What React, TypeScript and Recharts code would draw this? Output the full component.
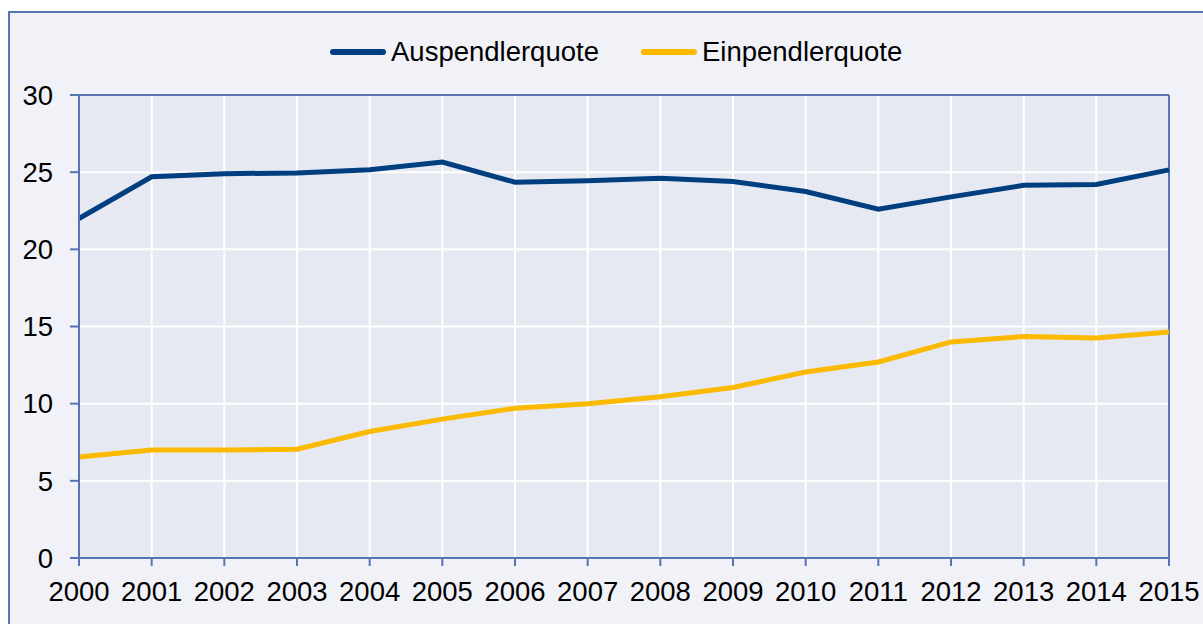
import React from "react";
import { LineChart, Line, XAxis, YAxis, CartesianGrid, Legend, ReferenceLine } from "recharts";

const years = ["2000","2001","2002","2003","2004","2005","2006","2007","2008","2009","2010","2011","2012","2013","2014","2015"];
const auspendlerquote = [22.0, 24.7, 24.9, 24.95, 25.15, 25.65, 24.35, 24.45, 24.6, 24.4, 23.75, 22.6, 23.4, 24.15, 24.2, 25.15];
const einpendlerquote = [6.55, 7.0, 7.0, 7.05, 8.2, 9.0, 9.7, 10.0, 10.45, 11.05, 12.05, 12.7, 14.0, 14.35, 14.25, 14.65];
const yTicks = [0, 5, 10, 15, 20, 25, 30];

const seriesNames = ["Auspendlerquote", "Einpendlerquote"];
const seriesColors = ["#003f7f", "#fbb900"];

const data = years.map((y, i) => ({
  year: y,
  Auspendlerquote: auspendlerquote[i],
  Einpendlerquote: einpendlerquote[i],
}));

const AXIS = "#5574b0";
const FONT = "'Liberation Sans', Arial, sans-serif";

const LegendContent = () => (
  <div style={{ display: "flex", alignItems: "center", height: 30, fontFamily: FONT, fontSize: 27.5, color: "#000" }}>
    {seriesNames.map((n, i) => (
      <div key={n} style={{ display: "flex", alignItems: "center", marginRight: i === 0 ? 42 : 0 }}>
        <div style={{ width: 56, height: 6, borderRadius: 3, background: seriesColors[i], marginRight: 5 }} />
        <span style={{ lineHeight: "30px" }}>{n}</span>
      </div>
    ))}
  </div>
);

export default function App() {
  return (
    <div style={{ position: "fixed", left: 0, top: 0, width: 1203, height: 624, overflow: "hidden", background: "#fff" }}>
      <div
        style={{
          position: "absolute",
          left: 8,
          top: 11,
          width: 1300,
          height: 700,
          borderLeft: `2px solid ${AXIS}`,
          borderTop: `2px solid ${AXIS}`,
          background: "#f0f2f8",
        }}
      >
        <LineChart
          width={1193}
          height={611}
          data={data}
          margin={{ top: 52, right: 34, bottom: 26, left: 0 }}
          style={{ fontFamily: FONT }}
        >
          <CartesianGrid fill="#e6e9f2" stroke="#ffffff" strokeWidth={2} />
          <XAxis
            dataKey="year"
            height={40}
            tickSize={8}
            tickMargin={15}
            axisLine={{ stroke: AXIS, strokeWidth: 2 }}
            tickLine={{ stroke: AXIS, strokeWidth: 2 }}
            tick={{ fill: "#000", fontSize: 27.5 }}
            interval={0}
          />
          <YAxis
            domain={[0, 30]}
            ticks={yTicks}
            width={69}
            tickSize={9}
            tickMargin={17}
            axisLine={{ stroke: AXIS, strokeWidth: 2 }}
            tickLine={{ stroke: AXIS, strokeWidth: 2 }}
            tick={{ fill: "#000", fontSize: 27.5 }}
            interval={0}
          />
          <ReferenceLine y={30} stroke={AXIS} strokeWidth={2} />
          <ReferenceLine x="2015" stroke={AXIS} strokeWidth={2} />
          <Legend
            verticalAlign="top"
            content={<LegendContent />}
            wrapperStyle={{ top: 24, left: 320, width: 620 }}
          />
          <Line
            type="linear"
            dataKey="Auspendlerquote"
            stroke={seriesColors[0]}
            strokeWidth={5}
            dot={false}
            isAnimationActive={false}
          />
          <Line
            type="linear"
            dataKey="Einpendlerquote"
            stroke={seriesColors[1]}
            strokeWidth={5}
            dot={false}
            isAnimationActive={false}
          />
        </LineChart>
      </div>
    </div>
  );
}
